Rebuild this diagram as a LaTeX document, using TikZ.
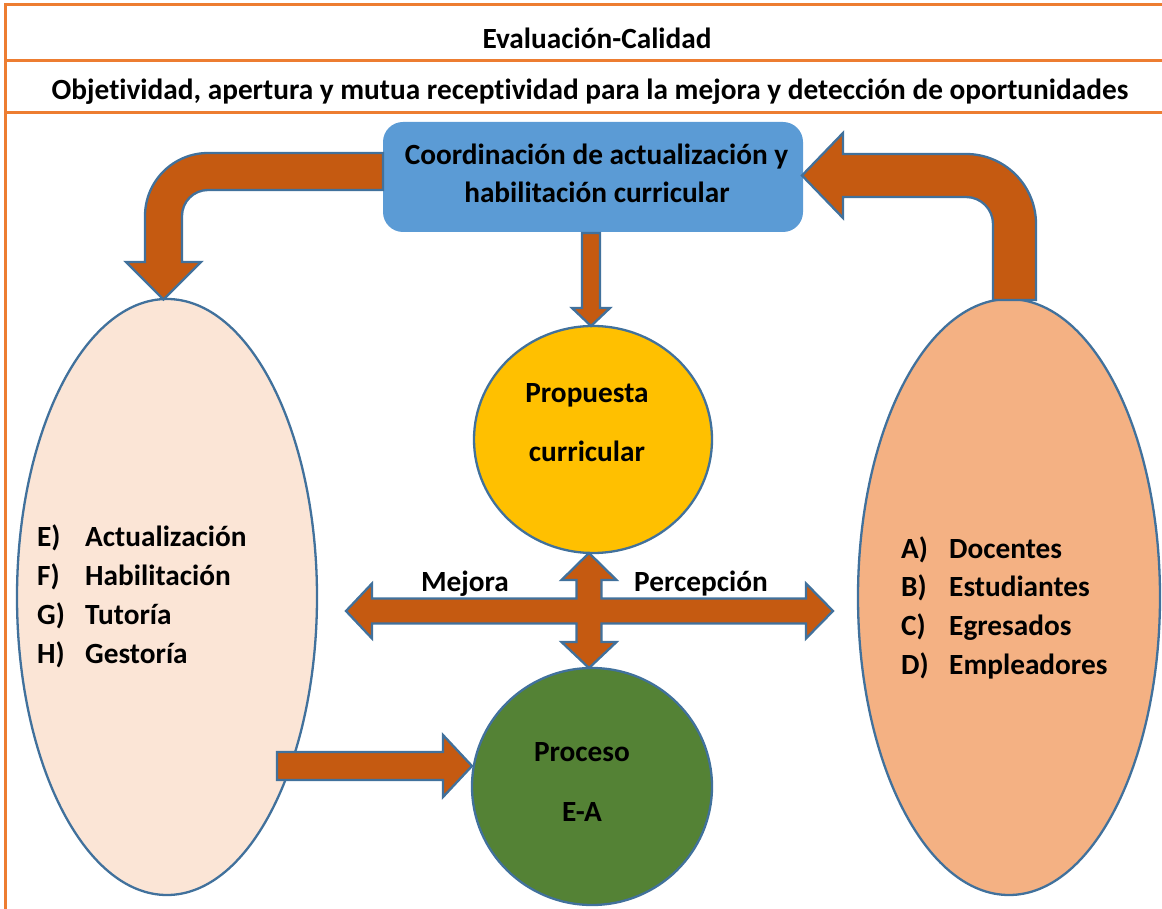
\documentclass[tikz,border=0pt]{standalone}
\usepackage{fontspec}
\setmainfont{Carlito}[Ligatures=NoCommon]
\usetikzlibrary{shapes.geometric}
\definecolor{marco}{HTML}{ED7D31}
\definecolor{borde}{HTML}{41719C}
\definecolor{flecha}{HTML}{C55A11}
\definecolor{azul}{HTML}{5B9BD5}
\definecolor{amarillo}{HTML}{FFC000}
\definecolor{verde}{HTML}{548235}
\definecolor{rosa}{HTML}{FBE5D6}
\definecolor{salmon}{HTML}{F4B183}
\tikzset{
  txt/.style={font=\fontsize{29.3}{34}\selectfont\bfseries,inner sep=0pt},
  flechita/.style={fill=flecha,draw=borde,line width=2.3pt,line join=miter},
  ovalo/.style={ellipse,draw=borde,line width=2.3pt,inner sep=0pt},
}
\begin{document}
\begin{tikzpicture}[x=1pt,y=-1pt]
\useasboundingbox (0,0) rectangle (1162,909);
% marco
\draw[marco,line width=3pt] (1162,5) -- (5,5) -- (5,909);
\draw[marco,line width=3pt] (5,61) -- (1162,61) (5,113) -- (1162,113);
\node[txt,anchor=base] (titulo) at (597,49) {Evaluación-Calidad};
\node[txt,anchor=base] (lema) at (590,100) {Objetividad, apertura y mutua receptividad para la mejora y detección de oportunidades};
% elipses
\node[ovalo,fill=rosa,minimum width=300pt,minimum height=596pt] (izq) at (167,597) {};
\node[ovalo,fill=salmon,minimum width=302pt,minimum height=596pt] (der) at (1009,597) {};
\node[ovalo,fill=amarillo,minimum width=238pt,minimum height=227pt] (prop) at (593,439.5) {};
\node[ovalo,fill=verde,minimum width=240pt,minimum height=237pt] (proc) at (592,786.5) {};
\node[fill=azul,rounded corners=20pt,minimum width=420pt,minimum height=110pt] (coord) at (593,177) {};
% textos
\node[txt,anchor=base] (coord1) at (596.5,165) {Coordinación de actualización y};
\node[txt,anchor=base] (coord2) at (597,203) {habilitación curricular};
\node[txt,anchor=base] (prop1) at (587,402) {Propuesta};
\node[txt,anchor=base] (prop2) at (587,461) {curricular};
\node[txt,anchor=base] (proc1) at (582,761) {Proceso};
\node[txt,anchor=base] (proc2) at (582,821) {E-A};
\node[txt,anchor=base] (mejora) at (465,591.7) {Mejora};
\node[txt,anchor=base] (percep) at (701,591.7) {Percepción};
\foreach \l/\t [count=\i from 0] in {E/Actualización,F/Habilitación,G/Tutoría,H/Gestoría}{
  \node[txt,anchor=base west] (izq\l) at (37,546.7+38.9*\i) {\l)};
  \node[txt,anchor=base west] (izqt\l) at (85,546.7+38.9*\i) {\t};
}
\foreach \l/\t [count=\i from 0] in {A/Docentes,B/Estudiantes,C/Egresados,D/Empleadores}{
  \node[txt,anchor=base west] (der\l) at (901,558+38.9*\i) {\l)};
  \node[txt,anchor=base west] (dert\l) at (949,558+38.9*\i) {\t};
}
% flechas
\draw[flechita] (383,153) -- (208,153) arc[start angle=270,end angle=180,radius=63]
  -- (145,262) -- (126,262) -- (163.5,299.5) -- (201,262) -- (182,262) -- (182,216)
  arc[start angle=180,end angle=270,radius=26] -- (383,190) -- cycle;
\draw[flechita] (993,300) -- (993,224) arc[start angle=0,end angle=-90,radius=27]
  -- (843,197) -- (843,218) -- (802,175.5) -- (843,133) -- (843,154) -- (966,154)
  arc[start angle=-90,end angle=0,radius=70] -- (1036,300) -- cycle;
\draw[flechita] (582,233) -- (582,308) -- (572,308) -- (591,326) -- (610,308) -- (600,308) -- (600,233) -- cycle;
\draw[flechita] (277,752) -- (443,752) -- (443,735) -- (472,766) -- (443,797) -- (443,780) -- (277,780) -- cycle;
\draw[flechita] (589,553) -- (616.5,580) -- (601.5,580) -- (601.5,598.5) -- (806,598.5) -- (806,583.5)
  -- (833,611) -- (806,638.5) -- (806,623.5) -- (601.5,623.5) -- (601.5,642) -- (616.5,642)
  -- (589,668) -- (561.5,642) -- (576.5,642) -- (576.5,623.5) -- (372,623.5) -- (372,638.5)
  -- (346,611) -- (372,583.5) -- (372,598.5) -- (576.5,598.5) -- (576.5,580) -- (561.5,580) -- cycle;
\end{tikzpicture}
\end{document}
